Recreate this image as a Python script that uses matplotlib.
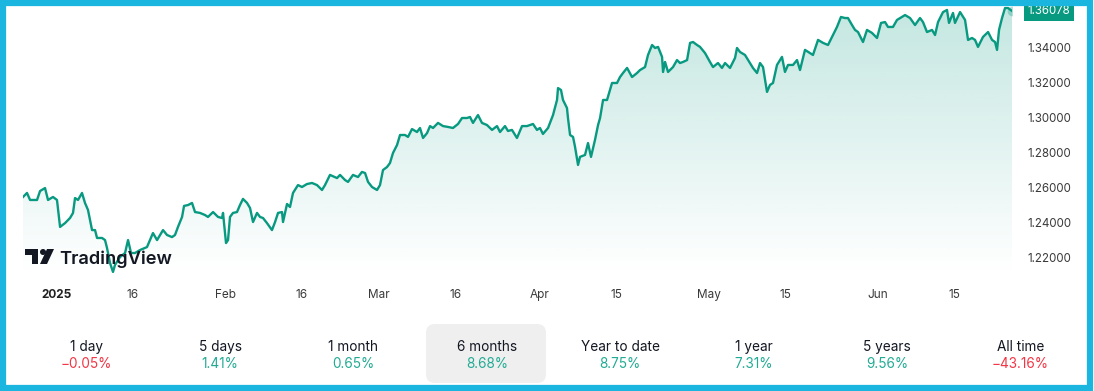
import numpy as np
import matplotlib
matplotlib.use("Agg")
import matplotlib.pyplot as plt
from matplotlib.patches import Rectangle, Polygon, Circle, FancyBboxPatch
from matplotlib.transforms import Affine2D

plt.rcParams['font.family'] = ['Inter', 'DejaVu Sans']

# ── data: trading-day offset from 2025-01-01, price ──
t = [-3.34, -2.82, -2.42, -2.03, -1.51, -1.12, -0.47, -0.08, 0.57, 1.09,
     1.49, 2.14, 2.79, 3.18, 3.44, 3.83, 4.35, 4.74, 5.13, 5.66,
     6.05, 6.31, 6.96, 7.35, 7.61, 8.00, 8.39, 8.65, 9.30, 9.96,
     10.35, 10.74, 11.26, 11.91, 12.82, 13.60, 14.13, 14.52, 14.91, 15.43,
     16.08, 16.47, 16.86, 17.39, 17.65, 18.17, 18.69, 19.08, 19.73, 20.38,
     20.77, 21.43, 22.08, 22.60, 22.73, 23.12, 23.38, 23.64, 24.03, 24.55,
     24.94, 25.33, 25.86, 26.25, 26.64, 27.16, 27.55, 27.94, 28.46, 29.11,
     29.51, 29.90, 30.42, 30.55, 31.07, 31.46, 31.85, 32.50, 33.02, 33.67,
     34.33, 34.98, 35.63, 36.02, 36.67, 37.59, 37.98, 38.63, 39.02, 39.67,
     40.32, 40.84, 41.24, 41.63, 42.15, 42.80, 43.19, 43.58, 44.10, 44.49,
     44.88, 45.41, 45.80, 46.45, 46.84, 47.36, 48.01, 48.40, 48.80, 49.32,
     49.71, 50.10, 50.75, 51.40, 52.05, 52.70, 53.36, 53.88, 54.53, 54.92,
     55.31, 55.96, 56.48, 57.13, 57.79, 58.44, 58.83, 59.48, 59.87, 60.39,
     61.04, 61.70, 62.35, 63.13, 63.65, 64.04, 64.43, 65.09, 65.74, 66.26,
     66.39, 66.78, 67.04, 67.56, 67.69, 67.96, 68.35, 68.61, 69.00, 69.26,
     69.91, 70.30, 70.69, 71.21, 71.61, 71.87, 72.26, 72.78, 73.43, 74.08,
     74.47, 74.86, 75.39, 76.04, 76.69, 77.08, 77.73, 78.12, 78.65, 79.04,
     79.43, 79.95, 80.08, 80.34, 80.73, 81.38, 81.90, 82.29, 82.68, 83.21,
     83.60, 83.99, 84.51, 84.90, 85.55, 86.20, 86.59, 87.24, 87.76, 88.16,
     88.81, 89.46, 89.72, 90.11, 90.76, 91.41, 91.80, 92.33, 92.72, 93.11,
     93.63, 94.02, 94.41, 94.93, 95.58, 95.97, 96.37, 97.02, 97.54, 97.93,
     98.58, 99.23, 99.62, 100.28, 100.93, 101.58, 102.23, 102.75, 103.27, 103.79,
     104.18, 104.71, 105.10, 105.49, 106.14, 106.66, 107.31, 107.97, 108.49, 109.01,
     109.40, 110.05, 110.57, 111.62, 112.27, 112.92, 113.57, 113.96, 114.48, 115.14,
     115.53, 115.92, 116.57, 117.09, 117.35, 117.87, 118.13, 118.79, 119.44, 119.83,
     120.35, 120.74, 121.13, 121.78, 122.44, 122.96, 123.35, 123.61, 123.87, 124.26,
     124.65, 125.04, 125.56]

price = [1.2545, 1.2568, 1.2528, 1.2528, 1.2528, 1.2579, 1.2596, 1.2528, 1.2545, 1.2528,
         1.2374, 1.2396, 1.2425, 1.2454, 1.2539, 1.2528, 1.2568, 1.2511, 1.2471, 1.2356,
         1.2356, 1.2311, 1.2311, 1.2299, 1.2254, 1.2168, 1.2117, 1.2157, 1.2202, 1.2225,
         1.2299, 1.2225, 1.2225, 1.2242, 1.2259, 1.2339, 1.2299, 1.2328, 1.2356, 1.2328,
         1.2316, 1.2328, 1.2374, 1.2431, 1.2494, 1.2499, 1.2511, 1.2459, 1.2454, 1.2442,
         1.2431, 1.2459, 1.2431, 1.2425, 1.2454, 1.2282, 1.2299, 1.2431, 1.2454, 1.2459,
         1.2499, 1.2534, 1.2511, 1.2482, 1.2402, 1.2454, 1.2431, 1.2425, 1.2396, 1.2356,
         1.2402, 1.2454, 1.2459, 1.2402, 1.2505, 1.2488, 1.2568, 1.2613, 1.2602, 1.2619,
         1.2625, 1.2613, 1.2585, 1.2613, 1.2671, 1.2653, 1.2671, 1.2642, 1.2631, 1.2671,
         1.2659, 1.2688, 1.2682, 1.2631, 1.2602, 1.2585, 1.2613, 1.2699, 1.2716, 1.2739,
         1.2796, 1.2842, 1.2899, 1.2899, 1.2888, 1.2933, 1.2916, 1.2939, 1.2882, 1.2910,
         1.2950, 1.2939, 1.2968, 1.2950, 1.2945, 1.2939, 1.2962, 1.2996, 1.2996, 1.3002,
         1.2968, 1.3013, 1.2968, 1.2956, 1.2928, 1.2950, 1.2916, 1.2950, 1.2922, 1.2928,
         1.2882, 1.2950, 1.2950, 1.2962, 1.2928, 1.2939, 1.2905, 1.2939, 1.3013, 1.3099,
         1.3167, 1.3156, 1.3099, 1.3053, 1.2996, 1.2899, 1.2888, 1.2831, 1.2728, 1.2774,
         1.2785, 1.2853, 1.2774, 1.2871, 1.2956, 1.2996, 1.3099, 1.3099, 1.3196, 1.3196,
         1.3230, 1.3253, 1.3282, 1.3230, 1.3253, 1.3270, 1.3287, 1.3356, 1.3413, 1.3396,
         1.3402, 1.3345, 1.3259, 1.3316, 1.3259, 1.3287, 1.3327, 1.3310, 1.3316, 1.3327,
         1.3425, 1.3430, 1.3413, 1.3402, 1.3367, 1.3316, 1.3287, 1.3310, 1.3282, 1.3310,
         1.3282, 1.3339, 1.3396, 1.3373, 1.3356, 1.3310, 1.3282, 1.3253, 1.3310, 1.3287,
         1.3145, 1.3185, 1.3196, 1.3299, 1.3345, 1.3259, 1.3299, 1.3299, 1.3327, 1.3270,
         1.3385, 1.3367, 1.3356, 1.3442, 1.3425, 1.3413, 1.3470, 1.3516, 1.3573, 1.3567,
         1.3567, 1.3527, 1.3499, 1.3487, 1.3430, 1.3499, 1.3482, 1.3453, 1.3539, 1.3544,
         1.3516, 1.3516, 1.3556, 1.3584, 1.3567, 1.3527, 1.3567, 1.3544, 1.3487, 1.3499,
         1.3470, 1.3544, 1.3601, 1.3613, 1.3539, 1.3596, 1.3539, 1.3601, 1.3556, 1.3442,
         1.3453, 1.3442, 1.3402, 1.3459, 1.3487, 1.3442, 1.3430, 1.3385, 1.3499, 1.3567,
         1.3624, 1.3624, 1.36078]

tick_dates = ['2025-01-02', '2025-01-16', '2025-02-03', '2025-02-17', '2025-03-03', '2025-03-17',
              '2025-04-01', '2025-04-15', '2025-05-01', '2025-05-15', '2025-06-02', '2025-06-16']
tick_labels = ['2025', '16', 'Feb', '16', 'Mar', '16', 'Apr', '15', 'May', '15', 'Jun', '15']
y_ticks = [1.22, 1.24, 1.26, 1.28, 1.30, 1.32, 1.34]
last_price = 1.36078

periods = ['1 day', '5 days', '1 month', '6 months', 'Year to date', '1 year', '5 years', 'All time']
changes = [-0.05, 1.41, 0.65, 8.68, 8.75, 7.31, 9.56, -43.16]
selected = '6 months'

GREEN = '#089981'
UP = '#22ab94'
DOWN = '#f23645'
W, H = 1094, 391

fig = plt.figure(figsize=(W / 100, H / 100), dpi=100)
fig.patch.set_facecolor('white')
# pixel coordinates, origin top-left
px = Affine2D().scale(1 / W, -1 / H).translate(0, 1) + fig.transFigure

ax = fig.add_axes([23 / W, 1 - 275 / H, (1012 - 23) / W, 270 / H])
ylo, yhi = 1.20995, 1.36414
ax.set_xlim(t[0], t[-1])
ax.set_ylim(ylo, yhi)

# gradient area under the line
grad = np.zeros((256, 1, 4))
grad[:, 0, 0] = 8 / 255
grad[:, 0, 1] = 153 / 255
grad[:, 0, 2] = 129 / 255
grad[:, 0, 3] = np.linspace(0.24, 0.0, 256)
im = ax.imshow(grad, extent=[t[0], t[-1], ylo, yhi], aspect='auto', origin='upper', zorder=1)
verts = [(t[0], ylo)] + list(zip(t, price)) + [(t[-1], ylo)]
clip = Polygon(verts, facecolor='none', edgecolor='none')
ax.add_patch(clip)
im.set_clip_path(clip)

ax.plot(t, price, color=GREEN, lw=1.7, zorder=3, solid_joinstyle='round')
ax.plot(t[-1], price[-1], 'o', ms=7, color=GREEN, alpha=0.3, mec='none', zorder=4)

for s in ax.spines.values():
    s.set_visible(False)
ax.yaxis.tick_right()
ax.set_yticks(y_ticks)
ax.set_yticklabels([f'{v:.5f}' for v in y_ticks])
ax.tick_params(axis='y', length=0, pad=11, labelsize=8.3, labelcolor='#3a3a3a')
xt = [np.busday_count('2025-01-01', d) for d in tick_dates]
ax.set_xticks(xt)
ax.set_xticklabels(tick_labels)
ax.tick_params(axis='x', length=0, pad=10, labelsize=8.5, labelcolor='#3a3a3a')
ax.get_xticklabels()[0].set_fontweight('bold')
ax.get_xticklabels()[0].set_color('#222222')

# last price tag
ax.text(1.016, last_price, f'{last_price:.5f}', transform=ax.get_yaxis_transform(),
        ha='left', va='center', fontsize=8.3, color='white',
        bbox=dict(boxstyle='square,pad=0.35', fc=GREEN, ec='none'))

# TradingView watermark
fig.patches.append(Polygon([(25, 249), (38, 249), (38, 264), (32, 264), (32, 255), (25, 255)],
                           closed=True, transform=px, fc='#131722', ec='none'))
fig.patches.append(Circle((43, 252), 3, transform=px, fc='#131722', ec='none'))
fig.patches.append(Polygon([(47, 249), (54, 249), (47, 264), (40, 264)],
                           closed=True, transform=px, fc='#131722', ec='none'))
fig.text(59, 264, 'TradingView', transform=px, ha='left', va='baseline',
         fontsize=13.2, fontweight='semibold', color='#131722')

# performance strip
col_w = 133.4
for i, (p, c) in enumerate(zip(periods, changes)):
    cx = 20 + col_w * (i + 0.5)
    if p == selected:
        fig.patches.append(FancyBboxPatch((426, 324), 120, 59, boxstyle='round,pad=0,rounding_size=9',
                                          transform=px, fc='#efefef', ec='none'))
    fig.text(cx, 347, p, transform=px, ha='center', va='center', fontsize=9.8, color='#131722')
    txt = (f'{c:.2f}%' if c >= 0 else f'\u2212{abs(c):.2f}%')
    fig.text(cx, 364, txt, transform=px, ha='center', va='center', fontsize=9.8,
             color=UP if c >= 0 else DOWN)

# cyan frame
fig.patches.append(Rectangle((3, 3), W - 7, H - 6, transform=px, fill=False,
                             ec='#1bb6e0', lw=4.5))

fig.savefig('out.png', dpi=100)
